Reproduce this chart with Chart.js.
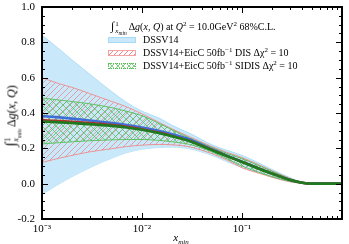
<!DOCTYPE html>
<html>
<head>
<meta charset="utf-8">
<script src="https://cdn.jsdelivr.net/npm/chart.js@4.4.1/dist/chart.umd.min.js"></script>
<style>
  html, body { margin: 0; padding: 0; background: #fff; }
  #wrap { position: relative; width: 349px; height: 244px; font-family: "Liberation Serif", serif; color: #000; }
  canvas { display: block; }
  .txt { position: absolute; font-size: 10px; white-space: nowrap; line-height: 1; }
  .txt sup, .txt sub { font-size: 7px; line-height: 0; }
  .lim { display: inline-block; vertical-align: middle; font-size: 7px; line-height: 7px; margin-left: 1px; margin-right: 2px; }
  .sw { position: absolute; width: 28px; height: 6px; box-sizing: border-box; }
  #ytitle { transform: translate(-50%, -50%) rotate(-90deg); font-size: 12px; }
  #xtitle { transform: translate(-50%, -50%); font-size: 11px; font-style: italic; }
</style>
</head>
<body>
<div id="wrap">
  <canvas id="c" width="349" height="244"></canvas>

  <div class="txt" style="left:111px; top:20px;">
    <span style="font-size:12px">∫</span><span class="lim">1<br><i>x</i><sub style="font-size:5.5px"><i>min</i></sub></span>Δ<i>g</i>(<i>x</i>, <i>Q</i>) at <i>Q</i><sup>2</sup> = 10.0GeV<sup>2</sup> 68%C.L.
  </div>

  <div class="sw" style="left:108px; top:37px; background:#c9e9fb; border:1px solid #a7daf6;"></div>
  <div class="txt" style="left:143px; top:35px;">DSSV14</div>

  <div class="sw" style="left:108px; top:50px; border:1px solid #f3a3a3;
       background:repeating-linear-gradient(135deg, transparent 0 2.8px, #f08a8a 2.8px 3.5px);"></div>
  <div class="txt" style="left:143px; top:48px;">DSSV14+EicC 50fb<sup>−1</sup> DIS Δχ<sup>2</sup> = 10</div>

  <div class="sw" style="left:108px; top:63px; border:1px dotted #55c055;
       background:repeating-linear-gradient(135deg, transparent 0 3.2px, #7fd07f 3.2px 3.9px),
                  repeating-linear-gradient(45deg, transparent 0 3.2px, #7fd07f 3.2px 3.9px);"></div>
  <div class="txt" style="left:143px; top:61px;">DSSV14+EicC 50fb<sup>−1</sup> SIDIS Δχ<sup>2</sup> = 10</div>

  <div id="ytitle" class="txt" style="left:12px; top:116px;">
    <span style="font-size:15px">∫</span><span class="lim" style="font-size:8px; line-height:8px">1<br><i>x</i><sub style="font-size:6px"><i>min</i></sub></span>Δ<i>g</i>(<i>x</i>, <i>Q</i>)
  </div>
  <div id="xtitle" class="txt" style="left:181px; top:237px;">x<sub style="font-size:7px">min</sub></div>
</div>

<script>
// x_min sample points
const xs = [0.001, 0.0015, 0.002, 0.003, 0.005, 0.007, 0.01, 0.015, 0.02, 0.03,
            0.05, 0.07, 0.1, 0.15, 0.2, 0.3, 0.4, 0.5, 0.7, 1.0];

// DSSV14
const dssvUp   = [0.84, 0.76, 0.70, 0.62, 0.52, 0.46, 0.41, 0.37, 0.33, 0.285,
                  0.22, 0.19, 0.16, 0.115, 0.08, 0.035, 0.008, 0.001, 0, 0];
const dssvMid  = [0.383, 0.375, 0.368, 0.358, 0.343, 0.332, 0.318, 0.298, 0.28, 0.25,
                  0.195, 0.16, 0.125, 0.085, 0.058, 0.022, 0.005, 0, 0, 0];
const dssvLow  = [-0.06, 0.0, 0.04, 0.09, 0.145, 0.175, 0.195, 0.205, 0.207, 0.197,
                  0.16, 0.125, 0.092, 0.06, 0.038, 0.012, 0.002, 0, 0, 0];

// + EicC DIS
const disUp    = [0.60, 0.565, 0.545, 0.51, 0.465, 0.435, 0.395, 0.345, 0.31, 0.265,
                  0.21, 0.178, 0.148, 0.105, 0.073, 0.03, 0.007, 0.001, 0, 0];
const disMid   = [0.36, 0.355, 0.351, 0.344, 0.333, 0.323, 0.309, 0.288, 0.27, 0.242,
                  0.192, 0.158, 0.124, 0.084, 0.057, 0.022, 0.005, 0, 0, 0];
const disLow   = [0.12, 0.145, 0.16, 0.18, 0.198, 0.21, 0.218, 0.222, 0.22, 0.208,
                  0.17, 0.135, 0.09, 0.058, 0.036, 0.011, 0.002, 0, 0, 0];

// + EicC SIDIS
const sidisUp  = [0.485, 0.473, 0.465, 0.452, 0.43, 0.41, 0.385, 0.34, 0.305, 0.258,
                  0.205, 0.172, 0.142, 0.1, 0.07, 0.028, 0.006, 0.001, 0, 0];
const sidisMid = [0.352, 0.347, 0.343, 0.337, 0.327, 0.318, 0.305, 0.285, 0.268, 0.24,
                  0.19, 0.157, 0.123, 0.083, 0.057, 0.022, 0.005, 0, 0, 0];
const sidisLow = [0.225, 0.232, 0.237, 0.243, 0.248, 0.25, 0.25, 0.245, 0.237, 0.222,
                  0.18, 0.142, 0.1, 0.063, 0.04, 0.013, 0.002, 0, 0, 0];

const yTicks = [-0.2, 0.0, 0.2, 0.4, 0.6, 0.8, 1.0];

const pts = ys => xs.map((x, i) => ({ x: x, y: ys[i] }));

function hatch(color, cross, size) {
    const c = document.createElement('canvas');
    c.width = c.height = size;
    const g = c.getContext('2d');
    g.strokeStyle = color;
    g.lineWidth = 0.7;
    g.beginPath();
    g.moveTo(-1, size + 1); g.lineTo(size + 1, -1);
    if (cross) {
        g.moveTo(-1, -1); g.lineTo(size + 1, size + 1);
    }
    g.stroke();
    return g.createPattern(c, 'repeat');
}

const ctx = document.getElementById('c').getContext('2d');
const redHatch = hatch('rgba(236,110,110,0.85)', false, 6);
const greenHatch = hatch('rgba(70,185,70,0.9)', true, 7);

function band(data, color, fill, width) {
    return {
        data: pts(data),
        borderColor: color,
        borderWidth: width,
        backgroundColor: fill,
        fill: fill ? '+1' : false,
        pointRadius: 0,
        cubicInterpolationMode: 'monotone'
    };
}

// lower index is drawn on top
const datasets = [
    band(sidisMid, '#1f7a1f', null, 2.6),
    band(disMid, '#b0302c', null, 2.4),
    band(dssvMid, '#3f6fd6', null, 2.6),
    band(sidisUp, '#55bf55', greenHatch, 0.9),
    band(sidisLow, '#55bf55', null, 0.9),
    band(disUp, '#ee8a8a', redHatch, 0.9),
    band(disLow, '#ee8a8a', null, 0.9),
    band(dssvUp, '#a3d8f5', '#c9e9fb', 0.8),
    band(dssvLow, '#a3d8f5', null, 0.8)
];

const supMap = { '-': '⁻', '1': '¹', '2': '²', '3': '³' };

const frameTicks = {
    id: 'frameTicks',
    afterDraw(chart) {
        const { ctx, chartArea: a, scales: { x, y } } = chart;
        ctx.save();
        ctx.strokeStyle = '#000';
        ctx.lineWidth = 1;
        ctx.beginPath();
        for (let d = -3; d < 0; d++) {
            for (let m = 1; m <= 9; m++) {
                const px = Math.round(x.getPixelForValue(m * Math.pow(10, d))) + 0.5;
                const len = m === 1 ? 6 : 3;
                ctx.moveTo(px, a.bottom); ctx.lineTo(px, a.bottom - len);
                ctx.moveTo(px, a.top); ctx.lineTo(px, a.top + len);
            }
        }
        for (let i = 0; i <= 24; i++) {
            const v = -0.2 + i * 0.05;
            const py = Math.round(y.getPixelForValue(v)) + 0.5;
            const len = i % 4 === 0 ? 6 : 3;
            ctx.moveTo(a.left, py); ctx.lineTo(a.left + len, py);
            ctx.moveTo(a.right, py); ctx.lineTo(a.right - len, py);
        }
        ctx.stroke();
        ctx.lineWidth = 2;
        ctx.strokeRect(a.left, a.top, a.right - a.left, a.bottom - a.top);
        ctx.restore();
    }
};

new Chart(ctx, {
    type: 'line',
    data: { datasets: datasets },
    options: {
        responsive: false,
        animation: false,
        layout: { padding: { top: 7, right: 7, left: 0, bottom: 0 } },
        plugins: { legend: { display: false }, tooltip: { enabled: false } },
        scales: {
            x: {
                type: 'logarithmic',
                min: 0.001,
                max: 1,
                grid: { display: false, drawTicks: false },
                border: { display: false },
                afterFit: s => { s.height = 25; s.paddingLeft = 0; s.paddingRight = 0; },
                ticks: {
                    autoSkip: false,
                    maxRotation: 0,
                    padding: 4,
                    color: '#000',
                    font: { family: 'Liberation Serif', size: 11 },
                    callback: v => {
                        const l = Math.log10(v);
                        if (Math.abs(l - Math.round(l)) > 1e-6 || Math.round(l) >= 0) return '';
                        return '10' + String(Math.round(l)).split('').map(ch => supMap[ch]).join('');
                    }
                }
            },
            y: {
                min: -0.2,
                max: 1.0,
                grid: { display: false, drawTicks: false },
                border: { display: false },
                afterFit: s => { s.width = 42; s.paddingTop = 0; s.paddingBottom = 0; },
                afterBuildTicks: s => { s.ticks = yTicks.map(v => ({ value: v })); },
                ticks: {
                    padding: 7,
                    color: '#000',
                    font: { family: 'Liberation Serif', size: 11 },
                    callback: v => v.toFixed(1)
                }
            }
        }
    },
    plugins: [frameTicks]
});
</script>
</body>
</html>
